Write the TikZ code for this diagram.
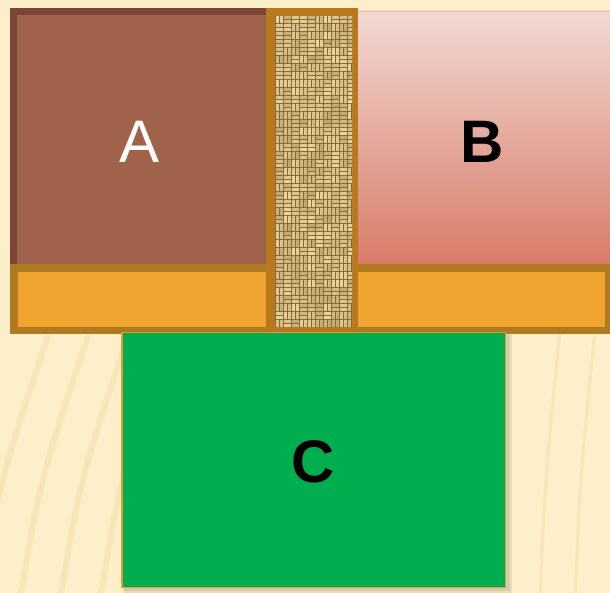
\documentclass[tikz,border=0pt]{standalone}
\usepackage{fontspec}
\setmainfont{Liberation Sans}
\begin{document}
\begin{tikzpicture}[x=1pt,y=-1pt]
\definecolor{cream}{HTML}{FCEFC9}
\definecolor{creamline}{HTML}{F4E0AE}
\definecolor{abox}{HTML}{A0624B}
\definecolor{aborder}{HTML}{7B4636}
\definecolor{barout}{HTML}{B07A22}
\definecolor{barin}{HTML}{EFA42F}
\definecolor{colborder}{HTML}{B8791E}
\definecolor{burlap}{HTML}{8A6A36}
\definecolor{strand}{HTML}{E6D196}
\definecolor{btop}{HTML}{F3D8D3}
\definecolor{bbot}{HTML}{D77A66}
\definecolor{cgreen}{HTML}{00AD4F}
\definecolor{cborder}{HTML}{E39A2E}
\tikzset{
  lbl/.style={inner sep=0pt, font=\fontsize{60}{60}\selectfont},
  bgstripe/.style={draw=creamline, line width=6pt, opacity=0.6, line cap=round}
}
\useasboundingbox (0,0) rectangle (610,593);
% background
\fill[cream] (0,0) rectangle (610,593);
\foreach \x in {-20,20,60,100} {
  \draw[bgstripe] (\x,600) .. controls (\x+20,480) .. (\x+70,330);
}
\foreach \x in {540,575} {
  \draw[bgstripe, line width=3pt] (\x,600) .. controls (\x+5,480) .. (\x+20,330);
}
% A box
\fill[aborder] (10,8) rectangle (270,268);
\fill[abox] (17,15) rectangle (270,268);
% B box
\fill[top color=btop, bottom color=bbot] (358,11) rectangle (610,268);
\draw[draw=btop!70!bbot, line width=1pt] (358,11.5) -- (610,11.5);
% orange bar
\fill[barout] (10,264) rectangle (610,334);
\fill[barin] (18,272) rectangle (605,327);
% texture column
\fill[colborder] (266,8) rectangle (358,334);
\begin{scope}
  \clip (275,16) rectangle (352,327);
  \fill[burlap] (275,16) rectangle (352,327);
  \pgfmathsetseed{11}
  \foreach \i in {0,...,9} {
    \foreach \j in {0,...,39} {
      \pgfmathsetmacro{\r}{rnd}
      \pgfmathsetmacro{\s}{int(60+40*rnd)}
      \pgfmathsetmacro{\cx}{275+8*\i}
      \pgfmathsetmacro{\cy}{16+8*\j}
      \ifdim \r pt < 0.5pt
        \draw[strand!\s!burlap, line width=3pt] (\cx+0.5,\cy+2) -- (\cx+7.5,\cy+2);
        \draw[strand!\s!burlap!90!white, line width=3pt] (\cx+0.5,\cy+6) -- (\cx+7.5,\cy+6);
      \else
        \draw[strand!\s!burlap!90!white, line width=3pt] (\cx+2,\cy+0.5) -- (\cx+2,\cy+7.5);
        \draw[strand!\s!burlap, line width=3pt] (\cx+6,\cy+0.5) -- (\cx+6,\cy+7.5);
      \fi
    }
  }
\end{scope}
% C box
\fill[black, opacity=0.08] (123,334) rectangle (512,593);
\fill[black, opacity=0.08] (124,335) rectangle (510,591);
\fill[cgreen] (121,332) rectangle (506,588);
\draw[cborder, line width=1.5pt] (121.75,332.75) rectangle (505.25,587.25);
% labels
\node[lbl, text=white] (la) at (140,142) {A};
\node[lbl, text=black, font=\fontsize{60}{60}\selectfont\bfseries] (lb) at (482,142) {B};
\node[lbl, text=black, font=\fontsize{60}{60}\selectfont\bfseries] (lc) at (313,462) {C};
\end{tikzpicture}
\end{document}
